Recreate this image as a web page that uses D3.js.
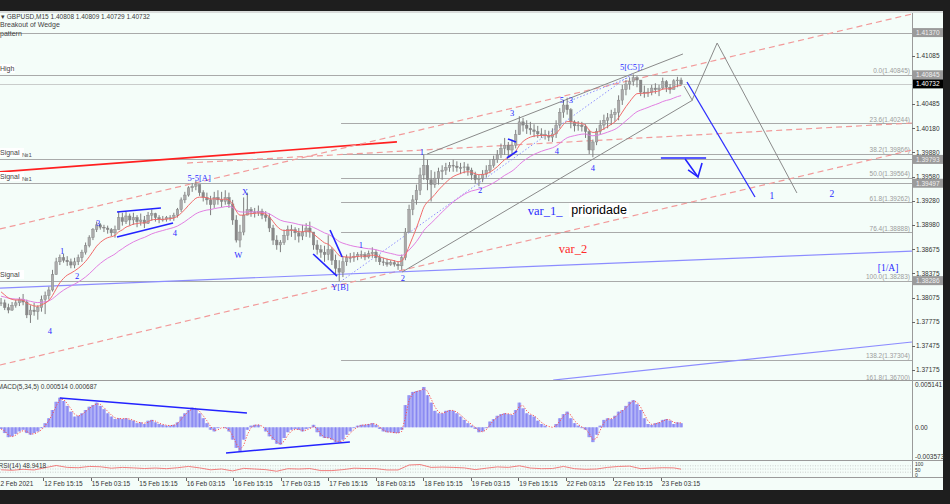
<!DOCTYPE html>
<html><head><meta charset="utf-8">
<script src="https://cdn.jsdelivr.net/npm/d3@7/dist/d3.min.js"></script>
<style>
html,body{margin:0;padding:0;background:#1e1e1e;overflow:hidden}
svg{display:block}
</style></head><body>
<svg id="chart" width="950" height="504"></svg>
<script>
// ---------- DATA (hourly samples of GBPUSD M15) ----------
const highs=[1.3807,1.3805,1.3800,1.3802,1.3805,1.3808,1.3812,1.3805,1.3798,1.3801,
1.3798,1.3810,1.3815,1.3821,1.3842,1.3857,1.3861,1.3862,1.3859,1.3856,
1.3857,1.3861,1.3867,1.3876,1.3885,1.3894,1.3902,1.3900,1.3898,1.3897,
1.3894,1.3897,1.3914,1.3913,1.3914,1.3912,1.3913,1.3910,1.3912,1.3909,
1.3914,1.3917,1.3913,1.3910,1.3909,1.3909,1.3910,1.3913,1.3919,1.3932,
1.3939,1.3946,1.3950,1.3953,1.3948,1.3941,1.3938,1.3934,1.3939,1.3941,
1.3939,1.3941,1.3938,1.3929,1.3910,1.3898,1.3932,1.3938,1.3920,1.3919,
1.3922,1.3918,1.3915,1.3912,1.3898,1.3885,1.3879,1.3892,1.3897,1.3898,
1.3895,1.3894,1.3898,1.3900,1.3902,1.3889,1.3879,1.3873,1.3872,1.3885,
1.3870,1.3861,1.3854,1.3859,1.3861,1.3863,1.3864,1.3864,1.3866,1.3864,
1.3866,1.3870,1.3867,1.3861,1.3857,1.3856,1.3854,1.3854,1.3852,1.3861,
1.3894,1.3923,1.3935,1.3948,1.3969,1.3985,1.3979,1.3966,1.3964,1.3969,
1.3972,1.3975,1.3976,1.3979,1.3977,1.3975,1.3976,1.3974,1.3969,1.3964,
1.3960,1.3966,1.3972,1.3979,1.3984,1.3991,1.3999,1.4006,1.4001,1.4004,
1.4016,1.4033,1.4031,1.4028,1.4026,1.4023,1.4021,1.4018,1.4016,1.4015,
1.4018,1.4028,1.4043,1.4053,1.4056,1.4043,1.4028,1.4027,1.4026,1.4023,
1.4016,1.4004,1.4018,1.4028,1.4035,1.4037,1.4041,1.4043,1.4059,1.4072,
1.4078,1.4081,1.4085,1.4083,1.4078,1.4071,1.4068,1.4072,1.4074,1.4072,
1.4081,1.4078,1.4073,1.4079,1.4082,1.4081];
const lows=[1.3797,1.3792,1.3788,1.3791,1.3795,1.3797,1.3798,1.3782,1.3776,1.3785,
1.3780,1.3790,1.3787,1.3805,1.3815,1.3836,1.3848,1.3851,1.3847,1.3844,
1.3844,1.3848,1.3852,1.3861,1.3870,1.3879,1.3889,1.3892,1.3889,1.3887,
1.3884,1.3882,1.3892,1.3897,1.3899,1.3897,1.3898,1.3895,1.3897,1.3894,
1.3899,1.3903,1.3902,1.3900,1.3902,1.3902,1.3903,1.3903,1.3907,1.3914,
1.3925,1.3933,1.3939,1.3941,1.3934,1.3927,1.3923,1.3910,1.3919,1.3923,
1.3920,1.3923,1.3919,1.3898,1.3876,1.3870,1.3885,1.3910,1.3908,1.3907,
1.3909,1.3905,1.3902,1.3889,1.3873,1.3867,1.3864,1.3873,1.3879,1.3883,
1.3879,1.3876,1.3879,1.3883,1.3882,1.3867,1.3861,1.3857,1.3852,1.3854,
1.3848,1.3836,1.3828,1.3833,1.3847,1.3851,1.3852,1.3854,1.3856,1.3854,
1.3856,1.3857,1.3852,1.3848,1.3847,1.3846,1.3847,1.3846,1.3842,1.3842,
1.3854,1.3889,1.3910,1.3923,1.3935,1.3954,1.3941,1.3927,1.3944,1.3948,
1.3954,1.3960,1.3964,1.3964,1.3964,1.3961,1.3962,1.3959,1.3954,1.3949,
1.3946,1.3951,1.3957,1.3962,1.3969,1.3975,1.3981,1.3985,1.3982,1.3985,
1.3993,1.4010,1.4014,1.4011,1.4010,1.4007,1.4006,1.4006,1.4004,1.4002,
1.4001,1.4006,1.4018,1.4031,1.4035,1.4018,1.4014,1.4015,1.4014,1.4006,
1.3986,1.3982,1.3997,1.4010,1.4016,1.4018,1.4022,1.4026,1.4028,1.4047,
1.4059,1.4066,1.4071,1.4069,1.4058,1.4056,1.4057,1.4059,1.4061,1.4058,
1.4066,1.4063,1.4061,1.4067,1.4069,1.4071];
const closes=[1.3801,1.3795,1.3792,1.3798,1.3801,1.3805,1.3802,1.3786,1.3792,1.3790,
1.3795,1.3805,1.3810,1.3817,1.3836,1.3852,1.3857,1.3854,1.3852,1.3848,
1.3852,1.3857,1.3864,1.3872,1.3882,1.3892,1.3898,1.3895,1.3894,1.3892,
1.3888,1.3892,1.3907,1.3902,1.3909,1.3904,1.3907,1.3902,1.3904,1.3900,
1.3910,1.3912,1.3907,1.3905,1.3905,1.3907,1.3907,1.3910,1.3917,1.3929,
1.3935,1.3944,1.3946,1.3948,1.3938,1.3932,1.3929,1.3923,1.3932,1.3929,
1.3927,1.3932,1.3924,1.3904,1.3879,1.3889,1.3910,1.3917,1.3914,1.3913,
1.3915,1.3910,1.3907,1.3894,1.3879,1.3873,1.3876,1.3885,1.3892,1.3892,
1.3888,1.3884,1.3889,1.3894,1.3889,1.3873,1.3867,1.3864,1.3861,1.3867,
1.3854,1.3844,1.3839,1.3852,1.3857,1.3857,1.3859,1.3861,1.3861,1.3858,
1.3862,1.3864,1.3857,1.3852,1.3851,1.3849,1.3851,1.3849,1.3847,1.3857,
1.3889,1.3917,1.3929,1.3941,1.3960,1.3972,1.3954,1.3948,1.3956,1.3964,
1.3966,1.3969,1.3972,1.3971,1.3969,1.3969,1.3970,1.3966,1.3960,1.3954,
1.3956,1.3961,1.3966,1.3972,1.3979,1.3985,1.3993,1.3997,1.3991,1.3997,
1.4010,1.4026,1.4022,1.4018,1.4016,1.4014,1.4011,1.4010,1.4009,1.4007,
1.4011,1.4022,1.4038,1.4047,1.4041,1.4026,1.4021,1.4022,1.4020,1.4014,
1.3991,1.4001,1.4014,1.4022,1.4028,1.4031,1.4035,1.4038,1.4053,1.4066,
1.4073,1.4076,1.4081,1.4078,1.4063,1.4062,1.4063,1.4068,1.4066,1.4068,
1.4076,1.4069,1.4066,1.4077,1.4078,1.4073];
const macd=[-0.0002,-0.0007,-0.0012,-0.0011,-0.0008,-0.0005,-0.0003,-0.0007,-0.0009,-0.0007,
-0.0005,-0.0001,0.0005,0.0011,0.0021,0.0031,0.0036,0.0032,0.0026,0.0019,
0.0013,0.0014,0.0017,0.0021,0.0025,0.0027,0.0030,0.0026,0.0022,0.0017,
0.0013,0.0010,0.0011,0.0010,0.0011,0.0009,0.0008,0.0005,0.0006,0.0004,
0.0008,0.0009,0.0006,0.0004,0.0003,0.0002,0.0002,0.0003,0.0006,0.0013,
0.0017,0.0021,0.0024,0.0022,0.0017,0.0011,0.0005,-0.0003,-0.0005,-0.0001,
0.0000,-0.0001,-0.0005,-0.0015,-0.0025,-0.0029,-0.0015,-0.0003,0.0002,0.0003,
0.0003,0.0000,-0.0005,-0.0011,-0.0015,-0.0020,-0.0021,-0.0013,-0.0006,-0.0003,
-0.0002,-0.0003,-0.0005,-0.0002,-0.0001,0.0003,-0.0006,-0.0011,-0.0013,-0.0013,
-0.0015,-0.0018,-0.0018,-0.0015,-0.0009,-0.0005,-0.0001,0.0002,0.0003,0.0003,
0.0004,0.0005,0.0003,-0.0002,-0.0005,-0.0006,-0.0006,-0.0007,-0.0007,-0.0003,
0.0027,0.0039,0.0043,0.0044,0.0045,0.0049,0.0039,0.0030,0.0020,0.0017,
0.0017,0.0020,0.0021,0.0020,0.0017,0.0013,0.0009,0.0005,0.0002,-0.0002,
-0.0006,-0.0005,-0.0001,0.0007,0.0010,0.0014,0.0016,0.0017,0.0016,0.0015,
0.0021,0.0030,0.0023,0.0017,0.0015,0.0013,0.0008,0.0004,0.0002,0.0000,
0.0000,0.0004,0.0011,0.0016,0.0019,0.0011,0.0005,0.0002,-0.0001,-0.0003,
-0.0012,-0.0018,-0.0009,0.0002,0.0009,0.0011,0.0010,0.0014,0.0019,0.0021,
0.0026,0.0031,0.0033,0.0028,0.0021,0.0011,0.0004,0.0003,0.0005,0.0006,
0.0009,0.0010,0.0008,0.0004,0.0006,0.0005];
const rsiIdx=[0,3,6,9,12,15,18,21,24,27,30,33,36,39,42,45,48,51,54,57,60,63,66,69,72,75,78,81,84,87,
90,93,96,99,102,105,108,111,114,117,120,123,126,129,132,135,138,141,144,147,150,153,156,159,162,165,168,171,174,177,180,183,185];
const rsiVals=[45,42,48,44,58,72,60,58,66,64,55,60,57,53,56,52,58,66,57,45,50,38,54,50,46,36,52,50,53,40,
40,46,55,53,52,44,44,75,78,60,62,60,57,46,55,63,60,70,56,52,53,66,52,48,50,60,66,68,52,55,58,57,49];

const timeLabels=["12 Feb 2021","12 Feb 15:15","15 Feb 03:15","15 Feb 15:15","16 Feb 03:15","16 Feb 15:15","17 Feb 03:15","17 Feb 15:15","18 Feb 03:15","18 Feb 15:15","19 Feb 03:15","19 Feb 15:15","22 Feb 03:15","22 Feb 15:15","23 Feb 03:15"];
const timeTickIdx=[-1.43,11.50,24.42,37.34,50.26,63.18,76.11,89.03,101.95,114.87,127.79,140.71,153.63,166.56,179.48];
const priceTicks=[1.41085,1.40485,1.40180,1.39880,1.39580,1.39280,1.38980,1.38675,1.38375,1.38075,1.37775,1.37475,1.37175];
const levelLines=[1.41370,1.40845,1.39793,1.39497,1.38286];
const lastPrice=1.40732;
const fibNames=["0.0","23.6","38.2","50.0","61.8","76.4","100.0","138.2","161.8"];
const fibPrices=[1.40845,1.40244,1.39866,1.39564,1.39262,1.38888,1.38283,1.37304,1.36700];
const fibStartIdx=92.5;
const leftLabels=[["High",1.40845,""],["Signal",1.39793,"№1"],["Signal",1.39497,"№1"],["Signal",1.38286,""]];
const macdTicks=[0.005141,0,-0.003573];
const macdTickText=["0.005141","0.00","-0.003573"];
const rsiTicks=[100,50,0];
const maSeeds=[1.3818,1.3810];   // red, violet starting values
const maPeriods=[9.2,24];        // in hourly samples

// annotation geometry in (sample index, price)
const redSolid=[[-0.3,1.39637],[107.7,1.40010]];
const redDashed=[[[-0.3,1.38928],[247.8,1.41601]],[[50.6,1.39748],[247.8,1.40246]],[[-0.3,1.37237],[247.8,1.39910]]];
const blueThin=[[[-0.3,1.38194],[247.8,1.38654]],[[150.2,1.37050],[247.8,1.37523]]];
const blueMarks=[[[31.55,1.39139],[43.5,1.39189]],[[31.55,1.38828],[46.8,1.39002]],
 [[84.9,1.38617],[91.4,1.38343]],[[89.5,1.38916],[92.8,1.38580]],
 [[137.9,1.40047],[140.1,1.40010]],[[137.6,1.39811],[140.4,1.39898]],
 [[179.5,1.39811],[191.8,1.39811]],[[186.1,1.39798],[189.6,1.39575],[190.7,1.39748]],[[186.9,1.39662],[189.6,1.39575]]];
const blueProj=[[186.6,1.40756],[205.1,1.39326]];
const grayLines=[[[115.9,1.39860],[185.5,1.41104]],[[109.1,1.38393],[188.2,1.40532]],
 [[185.8,1.40706],[188.0,1.40532],[194.8,1.41240],[216.5,1.39376]]];
const dottedBlue=[[[92.2,1.38269],[171.6,1.40855]],[[154.0,1.40507],[171.1,1.40818]]];
const macdLines=[[[16.0,0.00356],[66.9,0.00174]],[[61.2,-0.00312],[94.9,-0.00179]]];
const waveText=["4","1","2","3","4","5-5[A]","W","X","Y[B]","1","2","1","2","3","4","5","3","4","5[C5]?","1","2","[1/A]"];
const waveIdx=[13.3,16.6,20.7,26.4,47.3,53.9,64.5,66.4,92.2,97.9,109.3,114.5,130.3,139.0,151.2,152.6,155.0,161.0,171.6,209.7,226.0,241.3];
const wavePrice=[1.37623,1.38617,1.38307,1.38965,1.38841,1.39525,1.38568,1.39351,1.38169,1.38691,1.38282,1.39848,1.39376,1.40333,1.39860,1.40494,1.40494,1.39649,1.40905,1.39301,1.39326,1.38400];

// ---------- SCALES ----------
const PR=912;
const x=d3.scaleLinear().domain([0,250]).range([1.04,920.04]);
const y=d3.scaleLinear().domain([1.37175,1.41085]).range([370,55.5]);
const yM=d3.scaleLinear().domain([-0.003573,0.005141]).range([456.7,385]);
const yR=d3.scaleLinear().domain([0,100]).range([477,461]);
const SANS="'Liberation Sans', Arial, sans-serif", SERIF="'Liberation Serif','Times New Roman', serif";

const svg=d3.select("#chart");
svg.append("rect").attr("width",950).attr("height",504).attr("fill","#1e1e1e");
svg.append("rect").attr("x",0).attr("y",11).attr("width",943).attr("height",3).attr("fill","#d9dcdb");
svg.append("rect").attr("x",0).attr("y",13).attr("width",943).attr("height",477).attr("fill","#f4fdf9");

const defs=svg.append("defs");
defs.append("clipPath").attr("id","cm").append("rect").attr("x",0).attr("y",13).attr("width",PR).attr("height",367);
defs.append("clipPath").attr("id","cd").append("rect").attr("x",0).attr("y",381).attr("width",PR).attr("height",79);
defs.append("clipPath").attr("id","cr").append("rect").attr("x",0).attr("y",461).attr("width",PR).attr("height",16.5);

const main=svg.append("g").attr("clip-path","url(#cm)");
const line=d3.line().x(d=>x(d[0])).y(d=>y(d[1]));

// level lines
main.selectAll(".lvl").data(levelLines).join("line").attr("x1",0).attr("x2",PR)
 .attr("y1",d=>Math.round(y(d))+0.5).attr("y2",d=>Math.round(y(d))+0.5).attr("stroke","#a9aaaa").attr("stroke-width",1);
main.append("line").attr("x1",0).attr("x2",PR).attr("y1",Math.round(y(lastPrice))+0.5).attr("y2",Math.round(y(lastPrice))+0.5)
 .attr("stroke","#c9cccb");
// fib lines
main.selectAll(".fib").data(fibPrices).join("line").attr("x1",x(fibStartIdx)).attr("x2",PR)
 .attr("y1",d=>Math.round(y(d))+0.5).attr("y2",d=>Math.round(y(d))+0.5).attr("stroke","#a9aaaa");
main.selectAll(".fibt").data(fibPrices).join("text").attr("x",910).attr("y",d=>Math.min(y(d),381)-1.5)
 .attr("text-anchor","end").attr("font-family",SANS).attr("font-size",6.5).attr("fill","#9c9c9c")
 .text((d,i)=>fibNames[i]+"("+d.toFixed(5)+")");

// red / blue / gray trend lines
main.append("path").attr("d",line(redSolid)).attr("stroke","#ff2020").attr("stroke-width",1.7).attr("fill","none");
redDashed.forEach(s=>main.append("path").attr("d",line(s)).attr("stroke","#f29a9a").attr("stroke-width",1.2).attr("stroke-dasharray","6,4").attr("fill","none"));
blueThin.forEach(s=>main.append("path").attr("d",line(s)).attr("stroke","#8c8cff").attr("stroke-width",1.2).attr("fill","none"));
grayLines.forEach(s=>main.append("path").attr("d",line(s)).attr("stroke","#8a8a8a").attr("stroke-width",1).attr("fill","none"));
dottedBlue.forEach(s=>main.append("path").attr("d",line(s)).attr("stroke","#8f8fff").attr("stroke-width",1).attr("stroke-dasharray","1.5,2").attr("fill","none"));

// candles
const idx=d3.range(closes.length);
main.selectAll(".wick").data(idx).join("line").attr("x1",i=>x(i)).attr("x2",i=>x(i))
 .attr("y1",i=>y(highs[i])).attr("y2",i=>y(lows[i])).attr("stroke","#7e7e7e").attr("stroke-width",1);
main.selectAll(".body").data(idx).join("rect")
 .attr("x",i=>x(i)-1.3).attr("width",2.6)
 .attr("y",i=>y(Math.max(closes[i],i?closes[i-1]:closes[i])))
 .attr("height",i=>Math.max(0.8,Math.abs(y(closes[i])-y(i?closes[i-1]:closes[i]))))
 .attr("fill",i=>(i&&closes[i]<closes[i-1])?"#888888":"#ababab").attr("stroke","#838383").attr("stroke-width",0.4);

// moving averages (exponential, computed from closes)
function ema(arr,period,seed){const a=2/(period+1);let e=seed;return arr.map(v=>(e=e+a*(v-e)));}
const maColors=["#f26a6a","#e27fe2"];
[1,0].forEach(k=>{
  const m=ema(closes,maPeriods[k],maSeeds[k]);
  main.append("path").attr("d",d3.line().curve(d3.curveMonotoneX).x((d,i)=>x(i)).y(d=>y(d))(m))
   .attr("stroke",maColors[k]).attr("stroke-width",1).attr("fill","none");
});

// blue annotations
blueMarks.forEach(s=>main.append("path").attr("d",line(s)).attr("stroke","#2323ff").attr("stroke-width",1.6).attr("fill","none"));
main.append("path").attr("d",line(blueProj)).attr("stroke","#2f2fff").attr("stroke-width",1.3).attr("fill","none");

// wave labels
main.selectAll(".wv").data(waveText).join("text").attr("x",(d,i)=>x(waveIdx[i])).attr("y",(d,i)=>y(wavePrice[i]))
 .attr("text-anchor","middle").attr("font-family",SERIF).attr("font-size",(d,i)=>i>=19?9.5:8.5).attr("fill","#2b2bff").text(d=>d);

// big annotations
main.append("text").attr("x",x(148.0)).attr("y",y(1.39102)).attr("text-anchor","middle").attr("font-family",SERIF).attr("font-size",12.5).attr("fill","#2b2bff").text("var_1_");
main.append("rect").attr("x",x(162.7)-30).attr("y",y(1.39114)-11).attr("width",60).attr("height",14).attr("fill","#ffffff");
main.append("text").attr("x",x(162.7)).attr("y",y(1.39114)).attr("text-anchor","middle").attr("font-family",SANS).attr("font-size",12.5).attr("fill","#000").text("prioridade");
main.append("text").attr("x",x(155.6)).attr("y",y(1.38630)).attr("text-anchor","middle").attr("font-family",SERIF).attr("font-size",12.5).attr("fill","#ff2a2a").text("var_2");

// left labels with white boxes
leftLabels.forEach(([t,p,n])=>{
  const yy=Math.round(y(p));
  main.append("rect").attr("x",0).attr("y",yy-11).attr("width",t==="High"?15:24).attr("height",9).attr("fill","#ffffff");
  main.append("text").attr("x",0).attr("y",yy-4).attr("font-family",SANS).attr("font-size",7).attr("fill","#444").text(t);
  if(n) main.append("text").attr("x",22).attr("y",yy-2).attr("font-family",SANS).attr("font-size",6).attr("fill","#555").text(n);
});
// header
svg.append("text").attr("x",1).attr("y",19).attr("font-family",SANS).attr("font-size",6.5).attr("fill","#3a3a3a")
 .text("▾ GBPUSD,M15  1.40808 1.40809 1.40729 1.40732");
svg.append("text").attr("x",0).attr("y",27).attr("font-family",SANS).attr("font-size",7).attr("fill","#444").text("Breakout of Wedge");
svg.append("text").attr("x",0).attr("y",35.5).attr("font-family",SANS).attr("font-size",7).attr("fill","#444").text("pattern");

// ---------- MACD ----------
const md=svg.append("g").attr("clip-path","url(#cd)");
md.selectAll(".hb").data(macd).join("rect").attr("x",(d,i)=>x(i)-1.84).attr("width",3.676)
 .attr("y",d=>Math.min(yM(d),yM(0))).attr("height",d=>Math.abs(yM(d)-yM(0))).attr("fill","#a7a7f6");
md.selectAll(".hl").data(macd).join("line").attr("x1",(d,i)=>x(i)).attr("x2",(d,i)=>x(i))
 .attr("y1",d=>yM(d)).attr("y2",yM(0)).attr("stroke","#7b7bf0").attr("stroke-width",0.8);
const sig=macd.map((v,i)=>i?(v+macd[i-1])/2:v);
md.append("path").attr("d",d3.line().x((d,i)=>x(i)).y(d=>yM(d))(sig)).attr("stroke","#ff4d4d").attr("stroke-width",1).attr("stroke-dasharray","1.2,1.6").attr("fill","none");
macdLines.forEach(s=>md.append("path").attr("d",d3.line().x(d=>x(d[0])).y(d=>yM(d[1]))(s)).attr("stroke","#2323ff").attr("stroke-width",1.5).attr("fill","none"));
svg.append("text").attr("x",-2.5).attr("y",388.5).attr("font-family",SANS).attr("font-size",6.5).attr("fill","#3a3a3a").text("MACD(5,34,5) 0.000514 0.000687");
svg.selectAll(".mt").data(macdTicks).join("text").attr("x",915).attr("y",d=>yM(d)+2.3).attr("font-family",SANS).attr("font-size",6.5).attr("fill","#333").text((d,i)=>macdTickText[i]);

// ---------- RSI ----------
const rs=svg.append("g").attr("clip-path","url(#cr)");
[70,50,30].forEach(v=>rs.append("line").attr("x1",0).attr("x2",PR).attr("y1",yR(v)).attr("y2",yR(v)).attr("stroke","#bdbdbd").attr("stroke-width",0.7).attr("stroke-dasharray","1,1.5"));
rs.append("path").attr("d",d3.line().x((d,i)=>x(rsiIdx[i])).y(d=>yR(d))(rsiVals)).attr("stroke","#f07070").attr("stroke-width",0.9).attr("fill","none");
svg.append("text").attr("x",-1.5).attr("y",468).attr("font-family",SANS).attr("font-size",6.5).attr("fill","#3a3a3a").text("RSI(14) 48.9418");
svg.selectAll(".rt").data(rsiTicks).join("text").attr("x",915).attr("y",(d,i)=>[465.5,471.5,477.3][i]).attr("font-family",SANS).attr("font-size",5).attr("fill","#333").text(d=>d);

// ---------- frames ----------
[[0,380.5,943,380.5],[0,460.5,943,460.5],[0,477.5,943,477.5],[912.5,13,912.5,478]].forEach(a=>
 svg.append("line").attr("x1",a[0]).attr("y1",a[1]).attr("x2",a[2]).attr("y2",a[3]).attr("stroke","#9a9a9a").attr("stroke-width",1));

// price axis
svg.selectAll(".pt").data(priceTicks).join("text").attr("x",916).attr("y",d=>y(d)+2.3).attr("font-family",SANS).attr("font-size",6.5).attr("fill","#333").text(d=>d.toFixed(5));
svg.selectAll(".ptk").data(priceTicks).join("line").attr("x1",912).attr("x2",915).attr("y1",d=>Math.round(y(d))+0.5).attr("y2",d=>Math.round(y(d))+0.5).attr("stroke","#666");
levelLines.forEach(p=>{
  const yy=y(p);
  svg.append("rect").attr("x",913).attr("y",yy-4.5).attr("width",30).attr("height",9).attr("fill","#9b9b9b");
  svg.append("text").attr("x",916).attr("y",yy+2.3).attr("font-family",SANS).attr("font-size",6.5).attr("fill","#f0f0f0").text(p.toFixed(5));
});
svg.append("rect").attr("x",913).attr("y",y(lastPrice)-4.5).attr("width",30).attr("height",9).attr("fill","#000");
svg.append("text").attr("x",916).attr("y",y(lastPrice)+2.3).attr("font-family",SANS).attr("font-size",6.5).attr("fill","#fff").text(lastPrice.toFixed(5));

// time axis
svg.selectAll(".tt").data(timeTickIdx).join("line").attr("x1",d=>Math.round(x(d))+0.5).attr("x2",d=>Math.round(x(d))+0.5).attr("y1",478).attr("y2",481).attr("stroke","#666");
svg.selectAll(".tl").data(timeTickIdx).join("text").attr("x",d=>x(d)+1).attr("y",485.5).attr("font-family",SANS).attr("font-size",6.5).attr("fill","#333").text((d,i)=>timeLabels[i]);
</script></body></html>
